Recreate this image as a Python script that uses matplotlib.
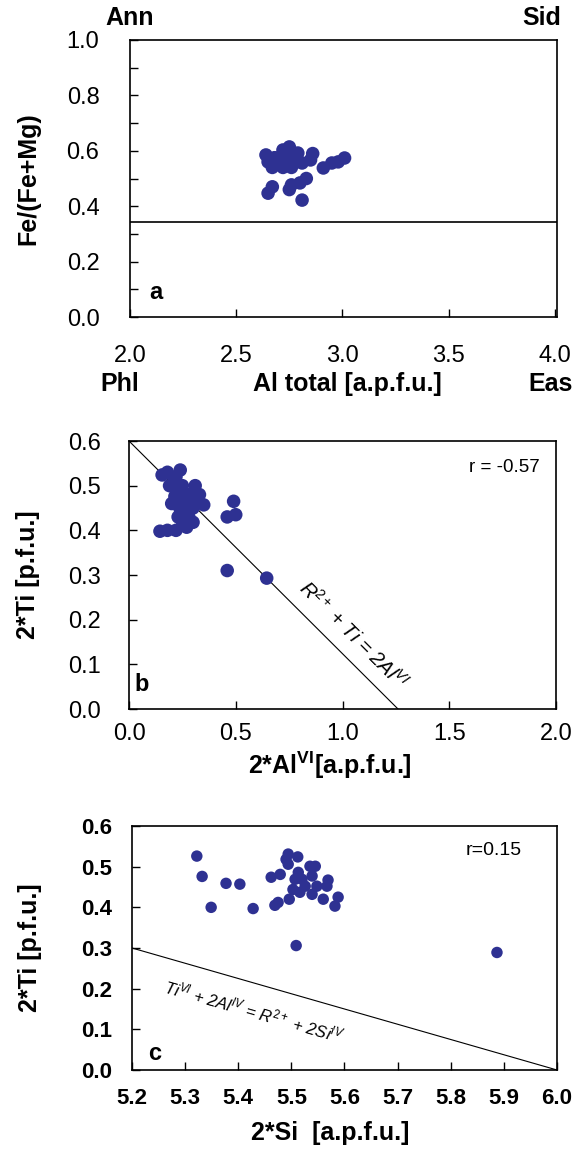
import matplotlib
matplotlib.use("Agg")
import matplotlib.pyplot as plt
import numpy as np

plt.rcParams['font.family'] = ['Liberation Sans', 'DejaVu Sans']
plt.rcParams['mathtext.fontset'] = 'custom'
plt.rcParams['mathtext.rm'] = 'Liberation Sans'
plt.rcParams['mathtext.it'] = 'Liberation Sans:italic'
plt.rcParams['mathtext.bf'] = 'Liberation Sans:bold'

# ---- data panel a ----
a_al = [2.64, 2.65, 2.67, 2.69, 2.72, 2.75, 2.79, 2.76, 2.81, 2.72, 2.74, 2.86,
        2.85, 2.91, 2.95, 2.98, 3.01, 2.83, 2.80, 2.76, 2.75, 2.67, 2.65, 2.81,
        2.70, 2.77, 2.78, 2.68]
a_fe = [0.585, 0.56, 0.54, 0.574, 0.603, 0.614, 0.592, 0.54, 0.556, 0.54, 0.578, 0.59,
        0.567, 0.538, 0.556, 0.56, 0.574, 0.50, 0.484, 0.477, 0.46, 0.47, 0.447, 0.422,
        0.56, 0.58, 0.565, 0.575]
a_line_y = 0.343

# ---- data panel b ----
b_al = [0.155, 0.18, 0.24, 0.21, 0.19, 0.31, 0.24, 0.33, 0.215, 0.27, 0.20, 0.35,
        0.30, 0.24, 0.28, 0.25, 0.30, 0.27, 0.22, 0.18, 0.145, 0.49, 0.50, 0.46,
        0.46, 0.645, 0.22, 0.25, 0.28, 0.22, 0.26, 0.30, 0.23, 0.25]
b_ti = [0.524, 0.53, 0.535, 0.51, 0.50, 0.50, 0.49, 0.48, 0.476, 0.47, 0.46, 0.457,
        0.45, 0.447, 0.43, 0.42, 0.418, 0.407, 0.40, 0.40, 0.398, 0.465, 0.435, 0.43,
        0.31, 0.293, 0.52, 0.50, 0.48, 0.46, 0.455, 0.47, 0.43, 0.44]
b_line_x = [0.0, 1.26]
b_line_y = [0.6, 0.0]

# ---- data panel c ----
c_si = [5.322, 5.332, 5.377, 5.403, 5.349, 5.428, 5.462, 5.479, 5.469, 5.475, 5.496,
        5.494, 5.512, 5.49, 5.494, 5.513, 5.507, 5.52, 5.535, 5.545, 5.539, 5.526,
        5.503, 5.516, 5.539, 5.548, 5.567, 5.569, 5.56, 5.588, 5.582, 5.509, 5.887]
c_ti = [0.526, 0.476, 0.459, 0.457, 0.40, 0.397, 0.474, 0.481, 0.405, 0.412, 0.42,
        0.531, 0.524, 0.518, 0.506, 0.486, 0.469, 0.469, 0.501, 0.501, 0.477, 0.452,
        0.444, 0.437, 0.432, 0.452, 0.452, 0.467, 0.42, 0.425, 0.403, 0.306, 0.289]
c_line_x = [5.2, 6.0]
c_line_y = [0.30, 0.0]

BLUE = '#2e3192'
TFS = 17   # tick labels
LFS = 18   # bold labels

fig = plt.figure(figsize=(5.77, 11.49), dpi=100)
W, H = 577, 1149

def mkax(l, r, t, b):
    return fig.add_axes([l / W, 1 - b / H, (r - l) / W, (b - t) / H])

def style(ax, fs):
    for s in ax.spines.values():
        s.set_linewidth(1.2)
    ax.tick_params(direction='in', length=6, width=1.0, labelsize=fs)
    ax.tick_params(which='minor', direction='in', length=6, width=1.0)

# Panel a
axa = mkax(130, 557, 40, 317)
style(axa, TFS)
axa.scatter(a_al, a_fe, s=95, color=BLUE, edgecolors='none', zorder=3)
axa.axhline(a_line_y, color='black', lw=1.2)
axa.set_xlim(2.0, 4.01)
axa.set_ylim(0, 1.0)
axa.set_xticks([2.0, 2.5, 3.0, 3.5, 4.0])
axa.set_xticklabels(['2.0', '2.5', '3.0', '3.5', '4.0'])
axa.set_yticks([0.0, 0.2, 0.4, 0.6, 0.8, 1.0])
axa.set_yticklabels(['0.0', '0.2', '0.4', '0.6', '0.8', '1.0'])
axa.set_yticks(np.arange(0.1, 1.0, 0.2), minor=True)
axa.tick_params(axis='x', pad=20)
axa.tick_params(axis='y', pad=22)
axa.set_ylabel('Fe/(Fe+Mg)', fontsize=LFS, fontweight='bold')
axa.yaxis.set_label_coords(-0.211, 0.5)
axa.set_xlabel('Al total [a.p.f.u.]', fontsize=LFS, fontweight='bold')
axa.xaxis.set_label_coords(0.508, -0.199)
axa.text(0.06, 0.09, 'a', transform=axa.transAxes, fontsize=LFS - 1, fontweight='bold',
         ha='center', va='center')
fig.text(130 / W, 1 - 18 / H, 'Ann', fontsize=LFS, fontweight='bold', ha='center', va='center')
fig.text(542 / W, 1 - 18 / H, 'Sid', fontsize=LFS, fontweight='bold', ha='center', va='center')
fig.text(120 / W, 1 - 384 / H, 'Phl', fontsize=LFS, fontweight='bold', ha='center', va='center')
fig.text(551 / W, 1 - 384 / H, 'Eas', fontsize=LFS, fontweight='bold', ha='center', va='center')

# Panel b
axb = mkax(129, 556, 441, 709)
style(axb, TFS)
axb.scatter(b_al, b_ti, s=95, color=BLUE, edgecolors='none', zorder=3)
axb.plot(b_line_x, b_line_y, color='black', lw=0.8)
axb.set_xlim(0, 2.0)
axb.set_ylim(0, 0.6)
axb.set_xticks([0.0, 0.5, 1.0, 1.5, 2.0])
axb.set_xticklabels(['0.0', '0.5', '1.0', '1.5', '2.0'])
axb.set_yticks([0.0, 0.1, 0.2, 0.3, 0.4, 0.5, 0.6])
axb.set_yticklabels(['0.0', '0.1', '0.2', '0.3', '0.4', '0.5', '0.6'])
axb.tick_params(axis='x', pad=10)
axb.tick_params(axis='y', pad=20)
axb.set_ylabel('2*Ti [p.f.u.]', fontsize=LFS, fontweight='bold')
axb.yaxis.set_label_coords(-0.208, 0.5)
axb.set_xlabel(r'2*Al$^{\mathbf{VI}}$[a.p.f.u.]', fontsize=LFS, fontweight='bold')
axb.xaxis.set_label_coords(0.47, -0.153)
axb.text(1.05, 0.165, r'R$^{2+}$ + Ti = 2Al$^{VI}$', fontsize=14.5, style='italic',
         rotation=-45, rotation_mode='anchor', ha='center', va='center')
axb.text(1.76, 0.54, 'r = -0.57', fontsize=13.5, ha='center', va='center')
axb.text(0.06, 0.055, 'b', fontsize=LFS - 1, fontweight='bold',
         ha='center', va='center')

# Panel c
axc = mkax(132, 557, 826, 1070)
style(axc, 16)
axc.scatter(c_si, c_ti, s=68, color=BLUE, edgecolors='none', zorder=3)
axc.plot(c_line_x, c_line_y, color='black', lw=0.8)
axc.set_xlim(5.2, 6.0)
axc.set_ylim(0, 0.6)
xt = [5.2, 5.3, 5.4, 5.5, 5.6, 5.7, 5.8, 5.9, 6.0]
axc.set_xticks(xt)
axc.set_xticklabels(['5.2', '5.3', '5.4', '5.5', '5.6', '5.7', '5.8', '5.9', '6.0'],
                    fontweight='bold')
yt = [0.0, 0.1, 0.2, 0.3, 0.4, 0.5, 0.6]
axc.set_yticks(yt)
axc.set_yticklabels(['0.0', '0.1', '0.2', '0.3', '0.4', '0.5', '0.6'], fontweight='bold')
axc.tick_params(axis='x', pad=13)
axc.tick_params(axis='y', pad=14)
axc.set_ylabel('2*Ti [p.f.u.]', fontsize=LFS, fontweight='bold')
axc.yaxis.set_label_coords(-0.212, 0.5)
axc.set_xlabel('2*Si  [a.p.f.u.]', fontsize=LFS, fontweight='bold')
axc.xaxis.set_label_coords(0.466, -0.209)
axc.text(5.43, 0.143, r'Ti$^{VI}$ + 2Al$^{IV}$ = R$^{2+}$ + 2Si$^{IV}$', fontsize=12,
         style='italic', rotation=-16, rotation_mode='anchor', ha='center', va='center')
axc.text(5.88, 0.54, 'r=0.15', fontsize=14, ha='center', va='center')
axc.text(5.243, 0.04, 'c', fontsize=LFS - 1, fontweight='bold', ha='center', va='center')

fig.savefig('out.png', dpi=100)
